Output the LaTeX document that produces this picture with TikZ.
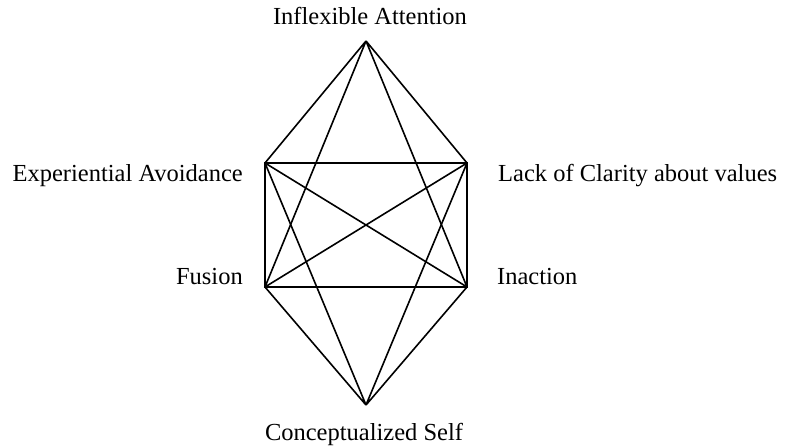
\documentclass[tikz,border=0pt]{standalone}
\usepackage{fontspec}
\setmainfont{Liberation Serif}
\begin{document}
\begin{tikzpicture}[x=1pt,y=-1pt,
  lbl/.style={inner sep=0pt,font=\fontsize{24.5}{29}\selectfont},
  edge/.style={line width=1.6pt,line join=miter,line cap=butt}]
\useasboundingbox (0,0) rectangle (792,446);
\coordinate (T) at (366,41);
\coordinate (LU) at (265,163);
\coordinate (RU) at (467,163);
\coordinate (LL) at (265,287);
\coordinate (RL) at (467,287);
\coordinate (B) at (366,405);
\draw[edge] (T) -- (LU) (T) -- (RU) (T) -- (LL) (T) -- (RL);
\draw[edge] (B) -- (LU) (B) -- (RU) (B) -- (LL) (B) -- (RL);
\draw[edge] (LU) -- (RU) -- (RL) -- (LL) -- cycle;
\draw[edge] (LU) -- (RL) (RU) -- (LL);
\node[lbl,anchor=base] (nt) at (370,25) {Inflexible Attention};
\node[lbl,anchor=base east] (nlu) at (243,182) {Experiential Avoidance};
\node[lbl,anchor=base west] (nru) at (498,182) {Lack of Clarity about values};
\node[lbl,anchor=base east] (nll) at (243,284) {Fusion};
\node[lbl,anchor=base west] (nrl) at (497,284) {Inaction};
\node[lbl,anchor=base] (nb) at (364,440) {Conceptualized Self};
\end{tikzpicture}
\end{document}
